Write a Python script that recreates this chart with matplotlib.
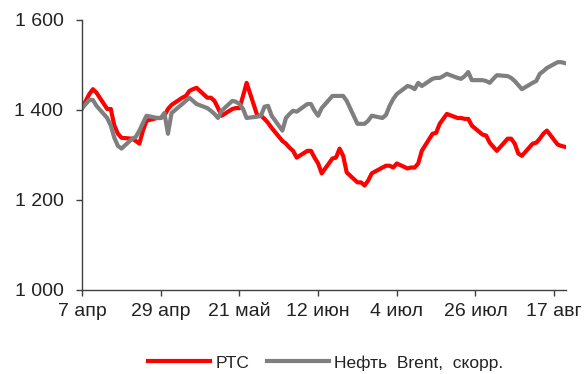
import matplotlib
matplotlib.use("Agg")
import matplotlib.pyplot as plt
import pandas as pd

# trading days, 7 Apr - 20 Aug
dates = pd.bdate_range("2014-04-07", "2014-08-20")

rts = [
    1404, 1420, 1435, 1446, 1438,
    1402, 1402, 1365, 1347, 1338,
    1336, 1331, 1325, 1354, 1376,
    1382, 1382, 1387, 1402, 1411,
    1427, 1431, 1442, 1446, 1449,
    1427, 1427, 1420, 1404, 1387,
    1402, 1404, 1404, 1431, 1460,
    1387, 1387, 1380, 1371, 1360,
    1331, 1325, 1316, 1309, 1294,
    1309, 1309, 1294, 1281, 1259,
    1292, 1294, 1314, 1298, 1261,
    1239, 1239, 1232, 1243, 1259,
    1272, 1276, 1276, 1272, 1281,
    1270, 1272, 1272, 1281, 1309,
    1347, 1349, 1369, 1380, 1391,
    1382, 1382, 1380, 1380, 1365,
    1345, 1343, 1327, 1318, 1309,
    1336, 1336, 1325, 1303, 1298,
    1325, 1327, 1336, 1347, 1354,
    1323, 1320, 1318,
]

brent = [
    1404, 1413, 1422, 1422, 1409,
    1382, 1365, 1338, 1320, 1314,
    1336, 1340, 1354, 1371, 1387,
    1382, 1382, 1393, 1347, 1393,
    1413, 1420, 1427, 1420, 1413,
    1404, 1398, 1391, 1382, 1398,
    1420, 1418, 1413, 1402, 1382,
    1385, 1387, 1407, 1409, 1387,
    1354, 1382, 1391, 1398, 1396,
    1413, 1413, 1398, 1387, 1404,
    1431, 1431, 1431, 1431, 1420,
    1369, 1369, 1369, 1376, 1387,
    1382, 1389, 1409, 1424, 1435,
    1453, 1451, 1446, 1460, 1453,
    1469, 1471, 1471, 1475, 1480,
    1471, 1469, 1475, 1484, 1466,
    1466, 1464, 1460, 1469, 1477,
    1475, 1471, 1464, 1455, 1446,
    1460, 1464, 1480, 1486, 1493,
    1506, 1506, 1504,
]

tick_dates = pd.to_datetime(["2014-04-07", "2014-04-29", "2014-05-21", "2014-06-12",
                             "2014-07-04", "2014-07-26", "2014-08-17"])
tick_labels = ["7 апр", "29 апр", "21 май", "12 июн", "4 июл", "26 июл", "17 авг"]
y_ticks = [1000, 1200, 1400, 1600]

plt.rcParams["font.family"] = ["Liberation Sans", "DejaVu Sans"]
text_color = "#222222"

fig = plt.figure(figsize=(5.87, 3.74), dpi=100)
ax = fig.add_axes([0.14, 0.2246, 0.824, 0.7224])

ax.plot(dates, rts, color="#ff0000", lw=3, label="РТС", solid_joinstyle="round")
ax.plot(dates, brent, color="#7f7f7f", lw=3, label="Нефть  Brent,  скорр.", solid_joinstyle="round")

ax.set_ylim(1000, 1600)
ax.set_yticks(y_ticks)
ax.set_yticklabels([f"{v:,}".replace(",", " ") for v in y_ticks])
ax.set_xlim(pd.Timestamp("2014-04-07"), pd.Timestamp("2014-04-07") + pd.Timedelta(days=135.3))
ax.set_xticks(tick_dates)
ax.set_xticklabels(tick_labels)

for side in ["top", "right"]:
    ax.spines[side].set_visible(False)
for side in ["left", "bottom"]:
    ax.spines[side].set_color("#404040")
    ax.spines[side].set_linewidth(1)

ax.tick_params(axis="y", direction="out", length=4.5, width=1, color="#404040",
               pad=9, labelsize=14, labelcolor=text_color)
ax.tick_params(axis="x", direction="out", length=4.5, width=1, color="#404040",
               pad=5, labelsize=14, labelcolor=text_color)

fig.legend(loc="center", bbox_to_anchor=(0.555, 0.03), ncol=2, frameon=False,
           fontsize=12.5, handlelength=3.6, handletextpad=0.3, columnspacing=1.0,
           labelcolor=text_color)

fig.savefig("out.png", dpi=100)
